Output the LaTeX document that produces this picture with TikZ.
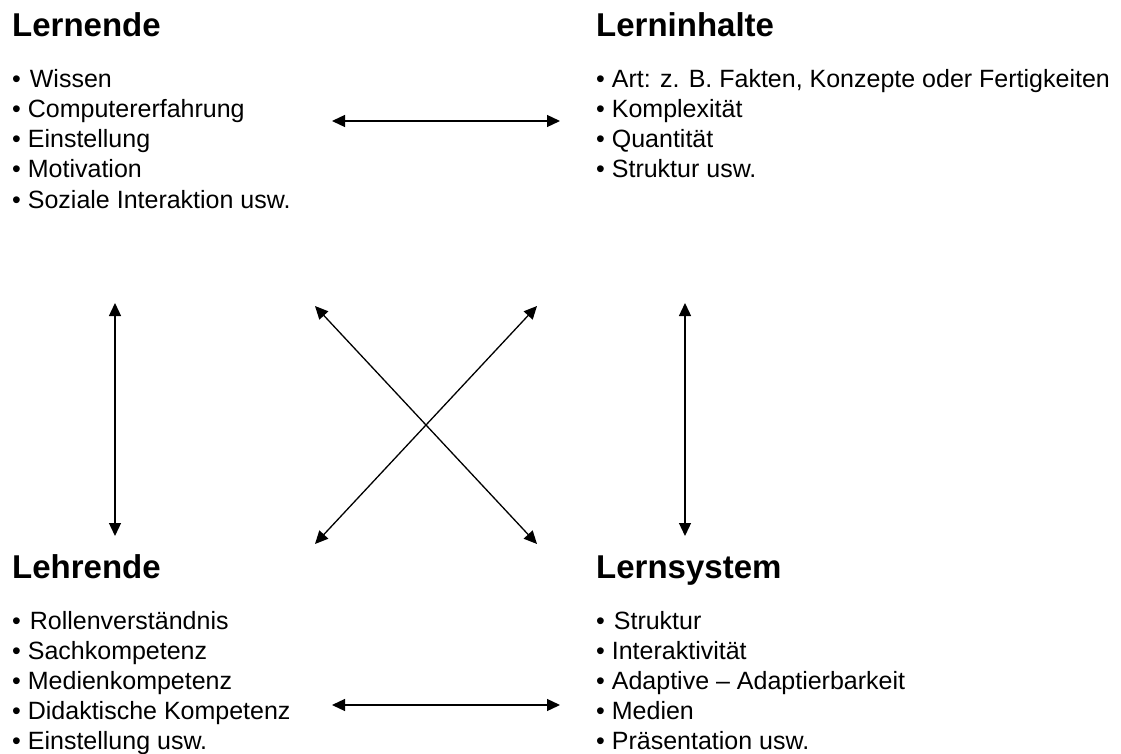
\documentclass[tikz,border=0pt]{standalone}
\usepackage{fontspec}
\setmainfont{Liberation Sans}
\usetikzlibrary{arrows.meta}

\begin{document}
\begin{tikzpicture}[
    x=1pt, y=-1pt,
    heading/.style={
        anchor=base west, inner sep=0pt,
        font=\fontsize{33}{40}\selectfont\bfseries
    },
    item/.style={
        anchor=base west, inner sep=0pt,
        font=\fontsize{25}{30}\selectfont
    },
    link/.style={
        {Triangle[length=13pt,width=12pt]}-{Triangle[length=13pt,width=12pt]},
        line width=1.3pt
    }
]
\useasboundingbox (0,0) rectangle (1121,754);

% Lernende
\node[heading] (lernende) at (12,37) {Lernende};
\foreach \t [count=\i] in {{\hspace{2pt}Wissen}, Computererfahrung, Einstellung, Motivation, Soziale Interaktion usw.}
    \node[item] (lernende\i) at (12,{58+30*\i}) {• \t};

% Lerninhalte
\node[heading] (inhalte) at (596,37) {Lerninhalte};
\foreach \t [count=\i] in {{Art: z. B. Fakten, Konzepte oder Fertigkeiten}, Komplexität, Quantität, Struktur usw.}
    \node[item] (inhalte\i) at (596,{58+30*\i}) {• \t};

% Lehrende
\node[heading] (lehrende) at (12,578) {Lehrende};
\foreach \t [count=\i] in {{\hspace{2pt}Rollenverständnis}, Sachkompetenz, Medienkompetenz, Didaktische Kompetenz, Einstellung usw.}
    \node[item] (lehrende\i) at (12,{599+30*\i}) {• \t};

% Lernsystem
\node[heading] (system) at (596,578) {Lernsystem};
\foreach \t [count=\i] in {{\hspace{2pt}Struktur}, Interaktivität, Adaptive – Adaptierbarkeit, Medien, Präsentation usw.}
    \node[item] (system\i) at (596,{599+30*\i}) {• \t};

% Arrow ends
\coordinate (top-l) at (332,121);
\coordinate (top-r) at (560,121);
\coordinate (bot-l) at (332,705);
\coordinate (bot-r) at (560,705);
\coordinate (left-t) at (115,303);
\coordinate (left-b) at (115,536);
\coordinate (right-t) at (685,303);
\coordinate (right-b) at (685,536);
\coordinate (diag1-t) at (315,306);
\coordinate (diag1-b) at (537,544);
\coordinate (diag2-t) at (537,306);
\coordinate (diag2-b) at (315,544);

% Relationships
\draw[link] (top-l) -- (top-r);
\draw[link] (bot-l) -- (bot-r);
\draw[link] (left-t) -- (left-b);
\draw[link] (right-t) -- (right-b);
\draw[link] (diag1-t) -- (diag1-b);
\draw[link] (diag2-t) -- (diag2-b);

\end{tikzpicture}
\end{document}
